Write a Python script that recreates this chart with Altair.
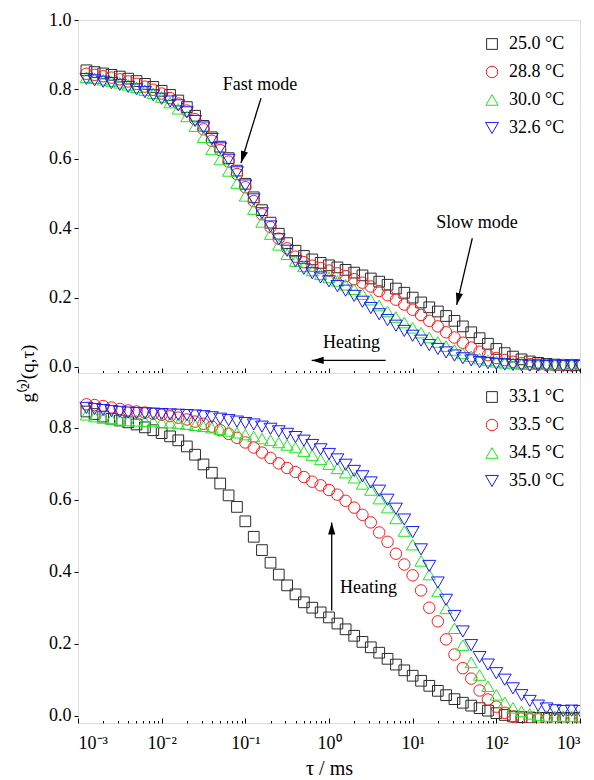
import altair as alt
import pandas as pd

FONT = "Liberation Serif"

# delay time tau in ms
tau = [0.00126, 0.00158, 0.00200, 0.00251, 0.00316, 0.00398, 0.00501, 0.00631, 0.00794, 0.0100,
       0.0126, 0.0158, 0.0200, 0.0251, 0.0316, 0.0398, 0.0501, 0.0631, 0.0794, 0.100,
       0.126, 0.158, 0.200, 0.251, 0.316, 0.398, 0.501, 0.631, 0.794, 1.00,
       1.26, 1.58, 2.00, 2.51, 3.16, 3.98, 5.01, 6.31, 7.94, 10.0,
       12.6, 15.8, 20.0, 25.1, 31.6, 39.8, 50.1, 63.1, 79.4, 100.0,
       126.0, 158.0, 200.0, 251.0, 316.0, 398.0, 501.0, 631.0, 794.0, 1000.0]

top_labels = ["25.0 °C", "28.8 °C", "30.0 °C", "32.6 °C"]
bot_labels = ["33.1 °C", "33.5 °C", "34.5 °C", "35.0 °C"]

top_250 = [0.855, 0.850, 0.846, 0.842, 0.837, 0.831, 0.824, 0.816, 0.807, 0.796,
           0.784, 0.768, 0.749, 0.724, 0.695, 0.662, 0.635, 0.602, 0.566, 0.528,
           0.489, 0.452, 0.416, 0.384, 0.357, 0.335, 0.320, 0.310, 0.300, 0.293,
           0.287, 0.280, 0.272, 0.264, 0.255, 0.246, 0.237, 0.226, 0.214, 0.200,
           0.186, 0.172, 0.160, 0.147, 0.133, 0.117, 0.100, 0.083, 0.067, 0.052,
           0.040, 0.030, 0.022, 0.016, 0.012, 0.009, 0.007, 0.006, 0.005, 0.005]
top_288 = [0.845, 0.842, 0.838, 0.834, 0.829, 0.823, 0.816, 0.808, 0.799, 0.788,
           0.775, 0.759, 0.739, 0.714, 0.685, 0.652, 0.625, 0.592, 0.556, 0.518,
           0.478, 0.440, 0.403, 0.370, 0.342, 0.318, 0.302, 0.292, 0.285, 0.278,
           0.270, 0.262, 0.253, 0.243, 0.232, 0.219, 0.207, 0.194, 0.180, 0.165,
           0.150, 0.133, 0.117, 0.100, 0.085, 0.070, 0.056, 0.044, 0.034, 0.026,
           0.020, 0.015, 0.011, 0.008, 0.007, 0.006, 0.005, 0.006, 0.005, 0.006]
top_300 = [0.835, 0.832, 0.828, 0.824, 0.819, 0.813, 0.806, 0.798, 0.789, 0.778,
           0.762, 0.744, 0.722, 0.694, 0.662, 0.627, 0.598, 0.565, 0.530, 0.493,
           0.455, 0.418, 0.383, 0.352, 0.325, 0.305, 0.290, 0.278, 0.267, 0.258,
           0.248, 0.237, 0.224, 0.210, 0.194, 0.177, 0.160, 0.144, 0.128, 0.113,
           0.099, 0.085, 0.072, 0.060, 0.049, 0.039, 0.031, 0.024, 0.019, 0.015,
           0.012, 0.010, 0.009, 0.008, 0.008, 0.009, 0.007, 0.008, 0.009, 0.008]
top_326 = [0.830, 0.826, 0.822, 0.818, 0.813, 0.807, 0.800, 0.792, 0.783, 0.773,
           0.765, 0.754, 0.734, 0.709, 0.690, 0.657, 0.630, 0.597, 0.561, 0.523,
           0.483, 0.443, 0.405, 0.368, 0.335, 0.305, 0.283, 0.270, 0.258, 0.247,
           0.233, 0.220, 0.205, 0.188, 0.170, 0.152, 0.135, 0.119, 0.104, 0.090,
           0.076, 0.063, 0.052, 0.042, 0.033, 0.025, 0.019, 0.014, 0.011, 0.009,
           0.007, 0.006, 0.005, 0.004, 0.004, 0.003, 0.004, 0.003, 0.004, 0.003]

bot_331 = [0.845, 0.838, 0.831, 0.825, 0.820, 0.815, 0.809, 0.801, 0.793, 0.785,
           0.776, 0.765, 0.748, 0.725, 0.698, 0.675, 0.645, 0.612, 0.580, 0.540,
           0.497, 0.460, 0.425, 0.392, 0.362, 0.337, 0.315, 0.300, 0.287, 0.273,
           0.256, 0.240, 0.222, 0.205, 0.190, 0.175, 0.158, 0.142, 0.126, 0.111,
           0.097, 0.083, 0.069, 0.057, 0.046, 0.036, 0.028, 0.021, 0.014, 0.007,
           0.002, -0.002, -0.004, -0.005, -0.006, -0.006, -0.007, -0.006, -0.007, -0.006]
bot_335 = [0.865, 0.863, 0.860, 0.856, 0.852, 0.848, 0.845, 0.842, 0.839, 0.836,
           0.832, 0.828, 0.823, 0.817, 0.811, 0.803, 0.793, 0.783, 0.772, 0.759,
           0.745, 0.731, 0.716, 0.701, 0.688, 0.677, 0.663, 0.650, 0.640, 0.627,
           0.614, 0.597, 0.578, 0.558, 0.537, 0.509, 0.483, 0.450, 0.420, 0.390,
           0.348, 0.300, 0.262, 0.212, 0.170, 0.132, 0.103, 0.070, 0.045, 0.025,
           0.008, -0.003, -0.008, -0.010, -0.010, -0.009, -0.010, -0.009, -0.010, -0.008]
bot_345 = [0.836, 0.831, 0.827, 0.824, 0.822, 0.820, 0.819, 0.818, 0.817, 0.815,
           0.814, 0.812, 0.810, 0.807, 0.804, 0.800, 0.796, 0.791, 0.786, 0.781,
           0.776, 0.770, 0.765, 0.759, 0.752, 0.745, 0.735, 0.724, 0.712, 0.699,
           0.687, 0.675, 0.661, 0.644, 0.627, 0.603, 0.578, 0.548, 0.513, 0.475,
           0.430, 0.392, 0.345, 0.298, 0.243, 0.196, 0.148, 0.113, 0.082, 0.058,
           0.037, 0.022, 0.012, 0.005, 0.001, -0.001, -0.002, -0.001, -0.002, -0.001]
bot_350 = [0.855, 0.852, 0.849, 0.846, 0.844, 0.842, 0.841, 0.840, 0.839, 0.838,
           0.837, 0.836, 0.835, 0.834, 0.832, 0.829, 0.825, 0.821, 0.817, 0.813,
           0.809, 0.803, 0.797, 0.790, 0.783, 0.774, 0.764, 0.752, 0.740, 0.727,
           0.712, 0.697, 0.680, 0.665, 0.648, 0.625, 0.600, 0.575, 0.545, 0.510,
           0.462, 0.416, 0.370, 0.322, 0.277, 0.234, 0.196, 0.163, 0.142, 0.118,
           0.100, 0.076, 0.057, 0.041, 0.028, 0.020, 0.015, 0.013, 0.014, 0.013]

COLORS = ["#2b2b2b", "#ff1a1a", "#1ee81e", "#1a1aff"]
SHAPES = ["square", "circle", "triangle-up", "triangle-down"]
SIZES = [115, 165, 215, 215]
ARROW = "M0,0L-0.3,1L0.3,1Z"

MAJOR = [0.001, 0.01, 0.1, 1, 10, 100, 1000]
MINOR = [m * 10.0 ** e for e in range(-3, 3) for m in range(2, 10)]
LABEL_EXPR = ("datum.value < 0.005 ? '10⁻³' : datum.value < 0.05 ? '10⁻²' : "
              "datum.value < 0.5 ? '10⁻¹' : datum.value < 5 ? '10⁰' : "
              "datum.value < 50 ? '10¹' : datum.value < 500 ? '10²' : '10³'")


def long_df(labels, series):
    rows = []
    for lab, vals in zip(labels, series):
        for t, v in zip(tau, vals):
            rows.append({"tau": t, "g2": v, "series": lab})
    return pd.DataFrame(rows)


x_scale = alt.Scale(type="log", domain=[0.001, 1000], nice=False)


def panel(labels, series, ydomain, yvalues, height, texts, arrows, bottom, ytitle):
    df = long_df(labels, series)
    y_scale = alt.Scale(domain=ydomain, nice=False, zero=False)
    y_axis = alt.Axis(values=yvalues, format=".1f", domain=False, grid=False,
                      tickSize=4, tickColor="black", tickWidth=1,
                      labelFont=FONT, labelFontSize=18, labelColor="black",
                      labelPadding=3,
                      title=ytitle if ytitle else None,
                      titleFont=FONT, titleFontSize=19, titleFontWeight="normal",
                      titleColor="black", titleAngle=270, titleX=-45, titleY=height,
                      titleBaseline="alphabetic", titleAlign="center")
    major_axis = alt.Axis(values=MAJOR, orient="bottom", domain=False, grid=False,
                          tickSize={"expr": "-5"}, tickColor="black", tickWidth=1,
                          labels=bottom, labelExpr=LABEL_EXPR, labelFont=FONT,
                          labelFontSize=18, labelColor="black", labelPadding=16,
                          title="τ / ms" if bottom else None, titleFont=FONT,
                          titleFontSize=20, titleFontWeight="normal",
                          titleColor="black", titlePadding=6)
    minor_axis = alt.Axis(values=MINOR, orient="bottom", domain=False, grid=False,
                          tickSize={"expr": "-2.5"}, tickColor="black", tickWidth=1,
                          labels=False, title=None)
    legend = alt.Legend(title=None, orient="top-right", offset=15, padding=0,
                        labelFont=FONT, labelFontSize=18, labelColor="black",
                        symbolSize=185, symbolStrokeWidth=1, rowPadding=10,
                        labelOffset=8)

    pts = alt.Chart(df).mark_point(filled=False, strokeWidth=1, clip=True, opacity=1).encode(
        x=alt.X("tau:Q", scale=x_scale, axis=major_axis),
        y=alt.Y("g2:Q", scale=y_scale, axis=y_axis),
        color=alt.Color("series:N", scale=alt.Scale(domain=labels, range=COLORS), legend=legend),
        shape=alt.Shape("series:N", scale=alt.Scale(domain=labels, range=SHAPES), legend=legend),
        size=alt.Size("series:N", scale=alt.Scale(domain=labels, range=SIZES), legend=None),
    )

    tdf = pd.DataFrame(texts, columns=["tau", "g2", "text"])
    txt = alt.Chart(tdf).mark_text(font=FONT, fontSize=18, color="black",
                                   align="center", baseline="middle").encode(
        x=alt.X("tau:Q", scale=x_scale, axis=minor_axis),
        y=alt.Y("g2:Q", scale=y_scale, axis=y_axis),
        text="text:N",
    )

    adf = pd.DataFrame(arrows, columns=["tau", "g2", "tau_end", "g2_end", "angle"])
    rule = alt.Chart(adf).mark_rule(color="black", strokeWidth=1.3).encode(
        x=alt.X("tau:Q", scale=x_scale, axis=None),
        y=alt.Y("g2:Q", scale=y_scale, axis=y_axis),
        x2="tau_end:Q",
        y2="g2_end:Q",
    )
    head = alt.Chart(adf).mark_point(shape=ARROW, filled=True, color="black",
                                     size=576, opacity=1, strokeWidth=0).encode(
        x=alt.X("tau_end:Q", scale=x_scale, axis=None),
        y=alt.Y("g2_end:Q", scale=y_scale, axis=y_axis),
        angle=alt.Angle("angle:Q", scale=None),
    )

    return alt.layer(pts, txt, rule, head).resolve_axis(x="independent").properties(
        width=502, height=height)


top = panel(top_labels, [top_250, top_288, top_300, top_326],
            [-0.0173, 1.0], [0.0, 0.2, 0.4, 0.6, 0.8, 1.0], 353,
            [(0.15, 0.813, "Fast mode"), (58.8, 0.416, "Slow mode"), (1.86, 0.07, "Heating")],
            [(0.154, 0.775, 0.0887, 0.588, 197), (51.6, 0.371, 33.6, 0.179, 193),
             (4.75, 0.019, 0.621, 0.019, 270)],
            bottom=False, ytitle="g⁽²⁾(q,τ)")

bot = panel(bot_labels, [bot_331, bot_335, bot_345, bot_350],
            [-0.0203, 0.952], [0.0, 0.2, 0.4, 0.6, 0.8], 350,
            [(2.97, 0.356, "Heating")],
            [(1.077, 0.292, 1.077, 0.537, 0)],
            bottom=True, ytitle=None)

chart = alt.vconcat(top, bot, spacing=0, bounds="flush").resolve_scale(
    color="independent", shape="independent", size="independent", y="independent"
).properties(
    padding={"left": 17, "top": 10, "right": 5, "bottom": 5}
).configure_view(stroke="black", strokeWidth=1.3).configure(background="white")

chart.save("out.html", embed_options={"renderer": "svg", "actions": False})
